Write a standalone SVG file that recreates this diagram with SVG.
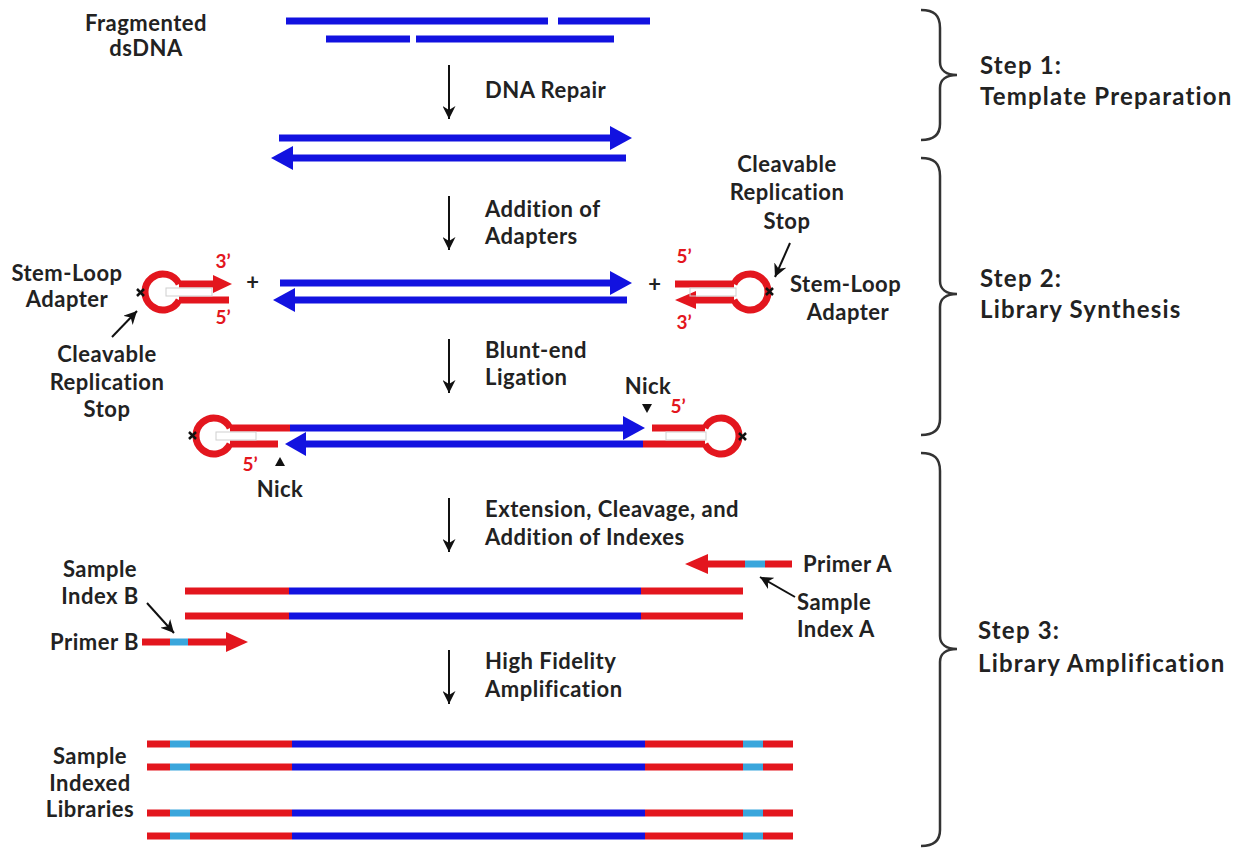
<svg xmlns="http://www.w3.org/2000/svg" width="1255" height="856" viewBox="0 0 1255 856">
<defs>
<style>
.lbl{font-family:Lato,"Open Sans","Liberation Sans",sans-serif;font-weight:bold;font-size:22px;letter-spacing:0.5px;fill:#222}
.stp{font-family:Lato,"Open Sans","Liberation Sans",sans-serif;font-weight:bold;font-size:24px;letter-spacing:1.2px;fill:#222}
.prm{font-family:Lato,"Open Sans","Liberation Sans",sans-serif;font-weight:bold;font-size:19px;fill:#e3161e}
.b{stroke:#1212e0;stroke-width:7;fill:none}
.r{stroke:#e3161e;stroke-width:7;fill:none}
.c{stroke:#3aa6dc;stroke-width:7;fill:none}
.bh{fill:#1212e0}
.rh{fill:#e3161e}
.k{stroke:#111;stroke-width:2;fill:none}
.x{stroke:#111;stroke-width:2.5}
.br{stroke:#333;stroke-width:2.5;fill:none}
.g{stroke:#cfcfcf;stroke-width:1;fill:none}
</style>
<marker id="ah" viewBox="0 0 10 10" refX="10" refY="5" markerWidth="6.5" markerHeight="6.5" orient="auto" markerUnits="strokeWidth">
<path d="M0,0 L10,5 L0,10 L3,5 z" fill="#111"/>
</marker>
</defs>
<rect width="1255" height="856" fill="#fff"/>

<g id="fragmented">
<text class="lbl" x="146" y="31" text-anchor="middle">Fragmented</text>
<text class="lbl" x="146" y="56" text-anchor="middle">dsDNA</text>
<path class="b" d="M286,21 H548 M558,21 H650 M326,39 H410 M416,39 H614"/>
</g>

<g id="repaired">
<path class="b" d="M279,138 H613 M290,158 H626"/>
<polygon class="bh" points="610,126 632,138 610,150"/>
<polygon class="bh" points="271,158 293,146 293,170"/>
</g>

<g id="adapter-left">
<path class="r" d="M179.1,284 A18,18 0 1 0 179.1,300 M179,284 H215 M179,300 H229"/>
<polygon class="rh" points="213,275 232,284 213,293"/>
<rect class="g" x="166" y="288" width="46" height="8"/>
<path class="x" d="M137,289 L144,296 M144,289 L137,296"/>
<text class="prm" x="223" y="268" text-anchor="middle">3’</text>
<text class="prm" x="223" y="324" text-anchor="middle">5’</text>
<text class="lbl" x="67" y="281" text-anchor="middle">Stem-Loop</text>
<text class="lbl" x="67" y="307" text-anchor="middle">Adapter</text>
<text class="lbl" x="107" y="362" text-anchor="middle">Cleavable</text>
<text class="lbl" x="107" y="390" text-anchor="middle">Replication</text>
<text class="lbl" x="107" y="417" text-anchor="middle">Stop</text>
</g>

<g id="plus-left"><text class="lbl" x="253" y="290" text-anchor="middle">+</text></g>

<g id="insert">
<path class="b" d="M280,283 H613 M290,300 H627"/>
<polygon class="bh" points="610,271 632,283 610,295"/>
<polygon class="bh" points="273,300 295,288 295,312"/>
</g>

<g id="plus-right"><text class="lbl" x="655" y="292" text-anchor="middle">+</text></g>

<g id="adapter-right">
<path class="r" d="M733.9,284 A18,18 0 1 1 733.9,300 M734,284 H675 M734,300 H694"/>
<polygon class="rh" points="696,291 675,300 696,309"/>
<rect class="g" x="690" y="288" width="46" height="8"/>
<path class="x" d="M766,288 L773,295 M773,288 L766,295"/>
<text class="prm" x="684" y="263" text-anchor="middle">5’</text>
<text class="prm" x="684" y="329" text-anchor="middle">3’</text>
<text class="lbl" x="787" y="172" text-anchor="middle">Cleavable</text>
<text class="lbl" x="787" y="200" text-anchor="middle">Replication</text>
<text class="lbl" x="787" y="229" text-anchor="middle">Stop</text>
<text class="lbl" x="790" y="292">Stem-Loop</text>
<text class="lbl" x="848" y="320" text-anchor="middle">Adapter</text>
</g>

<g id="ligated">
<path class="r" d="M230.1,428 A18,18 0 1 0 230.1,444 M230,428 H290 M230,444 H278"/>
<path class="b" d="M290,428 H626 M303,444 H643"/>
<polygon class="bh" points="623,416 645,428 623,440"/>
<polygon class="bh" points="285,444 306,432 306,456"/>
<path class="r" d="M704.9,428 A18,18 0 1 1 704.9,444 M705,428 H652 M705,444 H643"/>
<rect class="g" x="216" y="432" width="40" height="8"/>
<rect class="g" x="666" y="432" width="40" height="8"/>
<path class="x" d="M189,432 L196,439 M196,432 L189,439"/>
<path class="x" d="M739,433 L746,440 M746,433 L739,440"/>
<polygon fill="#111" points="642,404 652,404 647,413"/>
<polygon fill="#111" points="275,466 285,466 280,457"/>
<text class="lbl" x="648" y="394" text-anchor="middle">Nick</text>
<text class="prm" x="678" y="413" text-anchor="middle">5’</text>
<text class="prm" x="250" y="471" text-anchor="middle">5’</text>
<text class="lbl" x="280" y="497" text-anchor="middle">Nick</text>
</g>

<g id="primer-a">
<path class="r" d="M706,564 H745 M765,564 H792"/>
<path class="c" d="M745,564 H765"/>
<polygon class="rh" points="685,564 708,554 708,574"/>
<text class="lbl" x="803" y="572">Primer A</text>
<text class="lbl" x="797" y="610">Sample</text>
<text class="lbl" x="797" y="637">Index A</text>
</g>

<g id="extended">
<path class="r" d="M185,591 H289 M641,591 H743 M185,616 H289 M641,616 H743"/>
<path class="b" d="M289,591 H641 M289,616 H641"/>
</g>

<g id="primer-b">
<path class="r" d="M142,642 H170 M188,642 H228"/>
<path class="c" d="M170,642 H188"/>
<polygon class="rh" points="226,632 248,642 226,652"/>
<text class="lbl" x="139" y="650" text-anchor="end">Primer B</text>
<text class="lbl" x="100" y="577" text-anchor="middle">Sample</text>
<text class="lbl" x="100" y="604" text-anchor="middle">Index B</text>
</g>

<g id="libraries">
<text class="lbl" x="90" y="764" text-anchor="middle">Sample</text>
<text class="lbl" x="90" y="791" text-anchor="middle">Indexed</text>
<text class="lbl" x="90" y="817" text-anchor="middle">Libraries</text>
<path class="r" d="M147,744 H170 M190,744 H292 M645,744 H743 M763,744 H793 M147,767 H170 M190,767 H292 M645,767 H743 M763,767 H793 M147,813 H170 M190,813 H292 M645,813 H743 M763,813 H793 M147,836 H170 M190,836 H292 M645,836 H743 M763,836 H793"/>
<path class="c" d="M170,744 H190 M743,744 H763 M170,767 H190 M743,767 H763 M170,813 H190 M743,813 H763 M170,836 H190 M743,836 H763"/>
<path class="b" d="M292,744 H645 M292,767 H645 M292,813 H645 M292,836 H645"/>
</g>

<g id="step-labels">
<text class="lbl" x="485" y="98">DNA Repair</text>
<text class="lbl" x="485" y="217">Addition of</text>
<text class="lbl" x="485" y="244">Adapters</text>
<text class="lbl" x="485" y="358">Blunt-end</text>
<text class="lbl" x="485" y="385">Ligation</text>
<text class="lbl" x="485" y="517">Extension, Cleavage, and</text>
<text class="lbl" x="485" y="545">Addition of Indexes</text>
<text class="lbl" x="485" y="669">High Fidelity</text>
<text class="lbl" x="485" y="697">Amplification</text>
</g>

<g id="step1">
<path class="br" d="M921,10 C934,10 940,15 940,28 L940,62 C940,70 946,75 957,75 C946,75 940,80 940,88 L940,124 C940,135 934,140 921,140"/>
<text class="stp" x="980" y="74">Step 1:</text>
<text class="stp" x="980" y="105">Template Preparation</text>
</g>
<g id="step2">
<path class="br" d="M921,158 C934,158 940,163 940,176 L940,281 C940,289 946,294 957,294 C946,294 940,299 940,307 L940,419 C940,430 934,435 921,435"/>
<text class="stp" x="980" y="287">Step 2:</text>
<text class="stp" x="980" y="318">Library Synthesis</text>
</g>
<g id="step3">
<path class="br" d="M921,453 C934,453 940,458 940,471 L940,636 C940,644 946,649 957,649 C946,649 940,654 940,662 L940,830 C940,841 934,846 921,846"/>
<text class="stp" x="978" y="639">Step 3:</text>
<text class="stp" x="978" y="672">Library Amplification</text>
</g>

<g id="connectors">
<line class="k" x1="449" y1="65" x2="449" y2="119" marker-end="url(#ah)"/>
<line class="k" x1="449" y1="196" x2="449" y2="250" marker-end="url(#ah)"/>
<line class="k" x1="449" y1="339" x2="449" y2="393" marker-end="url(#ah)"/>
<line class="k" x1="449" y1="498" x2="449" y2="552" marker-end="url(#ah)"/>
<line class="k" x1="449" y1="650" x2="449" y2="704" marker-end="url(#ah)"/>
<line class="k" x1="112" y1="337" x2="137" y2="311" marker-end="url(#ah)"/>
<line class="k" x1="790" y1="243" x2="775" y2="277" marker-end="url(#ah)"/>
<line class="k" x1="147" y1="603" x2="174" y2="633" marker-end="url(#ah)"/>
<line class="k" x1="795" y1="597" x2="760" y2="577" marker-end="url(#ah)"/>
</g>
</svg>
